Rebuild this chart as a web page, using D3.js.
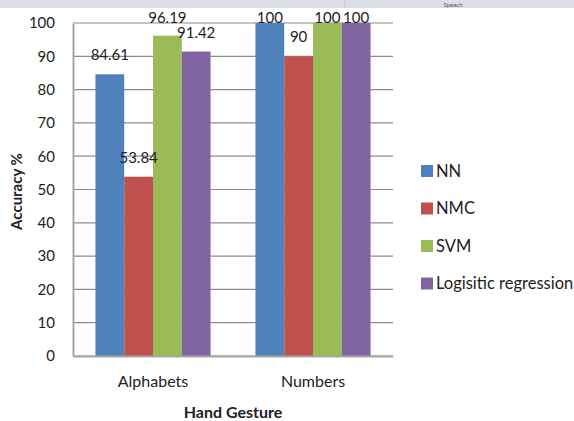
<!DOCTYPE html>
<html>
<head>
<meta charset="utf-8">
<script src="https://cdn.jsdelivr.net/npm/d3@7"></script>
<style>
  body { margin: 0; background: #fff; }
  text { font-family: Lato, "Open Sans", sans-serif; fill: #222; }
</style>
</head>
<body>
<div id="chart"></div>
<script>
const categories = ["Alphabets", "Numbers"];
const seriesNames = ["NN", "NMC", "SVM", "Logisitic regression"];
const seriesColors = ["#4f81bd", "#c0504d", "#9bbb59", "#8064a2"];
const nnValues = [84.61, 100];
const nmcValues = [53.84, 90];
const svmValues = [96.19, 100];
const lrValues = [91.42, 100];
const labelText = [["84.61", "100"], ["53.84", "90"], ["96.19", "100"], ["91.42", "100"]];
const yTicks = [0, 10, 20, 30, 40, 50, 60, 70, 80, 90, 100];

var seriesValues = [nnValues, nmcValues, svmValues, lrValues];

var width = 574, height = 421;
var margin = { top: 23, right: 181, bottom: 65, left: 73 };

var svg = d3.select("#chart")
  .append("svg")
  .attr("width", width)
  .attr("height", height);

// grey strip at the very top (cropped window header)
svg.append("rect")
  .attr("x", 0).attr("y", 0)
  .attr("width", width).attr("height", 8)
  .attr("fill", "#dcdee5");
svg.append("line")
  .attr("x1", 345).attr("x2", 345).attr("y1", 0).attr("y2", 8)
  .attr("stroke", "#c4c7cf");
svg.append("text")
  .attr("x", 453).attr("y", 6.5)
  .attr("text-anchor", "middle")
  .style("font-size", "6px")
  .style("fill", "#555")
  .text("Speech");

var x0 = d3.scaleBand()
  .domain(categories)
  .range([margin.left, width - margin.right]);

var x1 = d3.scaleBand()
  .domain(seriesNames)
  .range([0, x0.bandwidth()])
  .paddingOuter(0.78);

var y = d3.scaleLinear()
  .domain([0, 100])
  .range([height - margin.bottom, margin.top]);

// gridlines
svg.append("g")
  .selectAll("line")
  .data(yTicks)
  .join("line")
  .attr("x1", margin.left)
  .attr("x2", width - margin.right)
  .attr("y1", d => y(d))
  .attr("y2", d => y(d))
  .attr("stroke", "#8c8c8c")
  .attr("stroke-width", 1.2);

// y axis
var yAxis = svg.append("g")
  .attr("transform", "translate(" + margin.left + ",0)")
  .call(d3.axisLeft(y).tickValues(yTicks).tickSize(0).tickPadding(18));
yAxis.select(".domain").attr("stroke", "#a6a6a6").attr("stroke-width", 2);
yAxis.selectAll("text").style("font-size", "15px").style("fill", "#222")
  .style("font-family", "Lato, sans-serif");

// bars
seriesNames.forEach((name, i) => {
  svg.append("g")
    .attr("fill", seriesColors[i])
    .selectAll("rect")
    .data(categories)
    .join("rect")
    .attr("x", d => x0(d) + x1(name))
    .attr("y", (d, j) => y(seriesValues[i][j]))
    .attr("width", x1.bandwidth())
    .attr("height", (d, j) => y(0) - y(seriesValues[i][j]));
});

// x axis baseline
var xAxis = svg.append("g")
  .attr("transform", "translate(0," + y(0) + ")")
  .call(d3.axisBottom(x0).tickSize(0).tickPadding(20));
xAxis.select(".domain").attr("stroke", "#a6a6a6").attr("stroke-width", 2);
xAxis.selectAll("text").style("font-size", "16px").style("fill", "#222")
  .style("font-family", "Lato, sans-serif");

// data labels
seriesNames.forEach((name, i) => {
  svg.append("g")
    .selectAll("text")
    .data(categories)
    .join("text")
    .attr("x", d => x0(d) + x1(name) + x1.bandwidth() / 2)
    .attr("y", (d, j) => Math.max(y(seriesValues[i][j]) - 14, margin.top))
    .attr("text-anchor", "middle")
    .style("font-size", "15px")
    .text((d, j) => labelText[i][j]);
});

// axis titles
svg.append("text")
  .attr("transform", "translate(22," + ((margin.top + y(0)) / 2 + 2) + ") rotate(-90)")
  .attr("text-anchor", "middle")
  .style("font-size", "15px")
  .style("font-weight", "bold")
  .text("Accuracy %");

svg.append("text")
  .attr("x", (margin.left + width - margin.right) / 2)
  .attr("y", 418)
  .attr("text-anchor", "middle")
  .style("font-size", "16px")
  .style("font-weight", "bold")
  .text("Hand Gesture");

// legend
var legend = svg.append("g")
  .selectAll("g")
  .data(seriesNames)
  .join("g")
  .attr("transform", (d, i) => "translate(421," + (171 + i * 37.5) + ")");
legend.append("rect")
  .attr("x", 0).attr("y", -6)
  .attr("width", 12).attr("height", 12)
  .attr("fill", (d, i) => seriesColors[i]);
legend.append("text")
  .attr("x", 15).attr("y", 5.5)
  .style("font-size", "16.5px")
  .text(d => d);
</script>
</body>
</html>
